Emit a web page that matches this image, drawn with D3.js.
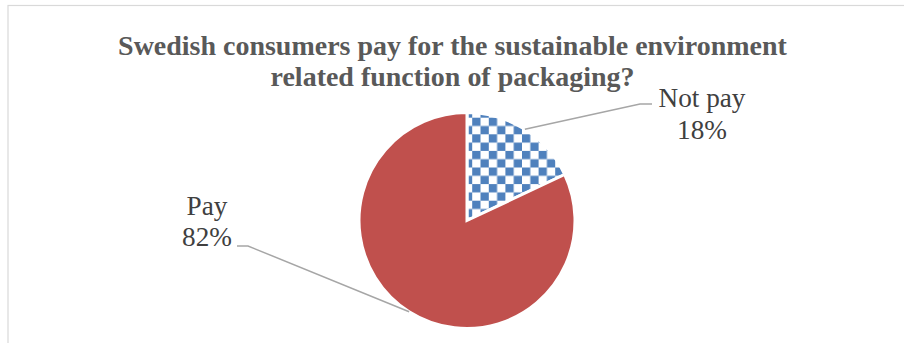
<!DOCTYPE html>
<html>
<head>
<meta charset="utf-8">
<script src="https://cdn.jsdelivr.net/npm/d3@7"></script>
<style>
  html, body { margin: 0; padding: 0; background: #fff; }
  svg { display: block; }
</style>
</head>
<body>
<svg id="chart" width="904" height="343"></svg>
<script>
const categories = ["Not pay", "Pay"];
const values = [18, 82];
const titleLines = ["Swedish consumers pay for the sustainable environment", "related function of packaging?"];

const W = 904, H = 343;
const cx = 467, cy = 220.5, R = 108;
const serif = "'Liberation Serif', 'Times New Roman', serif";
const svg = d3.select("#chart");

// border
svg.append("rect").attr("x", 8).attr("y", 5.5).attr("width", W + 20).attr("height", H + 20)
  .attr("fill", "#fff").attr("stroke", "#D9D9D9").attr("stroke-width", 1.2);

// checker pattern
const defs = svg.append("defs");
const pat = defs.append("pattern").attr("id", "checker").attr("patternUnits", "userSpaceOnUse")
  .attr("x", 470).attr("y", 113).attr("width", 16.6).attr("height", 16.6);
pat.append("rect").attr("width", 16.6).attr("height", 16.6).attr("fill", "#fff");
pat.append("rect").attr("width", 8.3).attr("height", 8.3).attr("fill", "#4F81BD");
pat.append("rect").attr("x", 8.3).attr("y", 8.3).attr("width", 8.3).attr("height", 8.3).attr("fill", "#4F81BD");

const fills = ["url(#checker)", "#C0504D"];

// helper: horizontally condensed text fitted to a target width
function condensedText(parent, str, x, y, size, weight, color, sx) {
  const g = parent.append("g").attr("transform", `translate(${x},${y}) scale(${sx},1)`);
  g.append("text").attr("text-anchor", "middle")
    .attr("font-family", serif).attr("font-weight", weight)
    .attr("font-size", size).attr("fill", color).text(str);
  return g;
}
function measure(str, size, weight) {
  const t = svg.append("text").attr("font-family", serif).attr("font-weight", weight)
    .attr("font-size", size).text(str);
  const w = t.node().getComputedTextLength();
  t.remove();
  return w;
}

// title
const titleSize = 27.5;
const tsx = 669 / measure(titleLines[0], titleSize, "bold");
titleLines.forEach((t, i) => {
  condensedText(svg, t, 452.5, 54.5 + i * 31, titleSize, "bold", "#595959", tsx);
});

// pie
const pie = d3.pie().sort(null).value(d => d)(values);
const arc = d3.arc().innerRadius(0).outerRadius(R);
const edge = d3.arc().innerRadius(R).outerRadius(R);
const g = svg.append("g").attr("transform", `translate(${cx},${cy})`);
g.selectAll("path").data(pie).join("path")
  .attr("d", arc).attr("fill", (d, i) => fills[i])
  .attr("stroke", "#fff").attr("stroke-width", 3).attr("stroke-linejoin", "miter");

// labels & leader lines (layout positions)
const labelSize = 27.5;
const lsx = 87 / measure(categories[0], labelSize, "normal");
const labelLayout = [
  { x: 702, y1: 107, elbow: [173, -116.5], end: [185, -116.5] },
  { x: 207, y1: 214.5, elbow: [-219, 25.5], end: [-230, 25.5] }
];
pie.forEach((d, i) => {
  const L = labelLayout[i];
  const c = edge.centroid(d);
  g.append("polyline")
    .attr("points", [c, L.elbow, L.end].map(p => p.join(",")).join(" "))
    .attr("fill", "none").attr("stroke", "#A6A6A6").attr("stroke-width", 1.5);
  const pct = Math.round(100 * d.value / d3.sum(values)) + "%";
  [categories[i], pct].forEach((t, j) => {
    condensedText(svg, t, L.x, L.y1 + j * 31.5, labelSize, "normal", "#404040", lsx);
  });
});
</script>
</body>
</html>
